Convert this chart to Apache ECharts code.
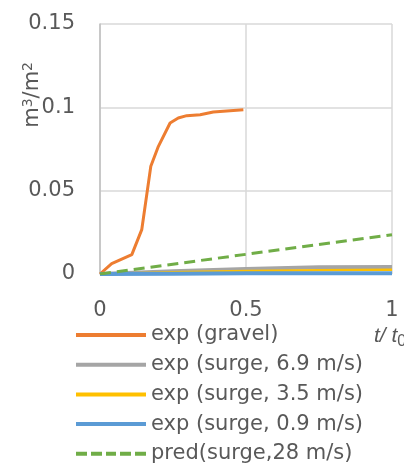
<!DOCTYPE html>
<html>
<head>
<meta charset="utf-8">
<script src="https://cdn.jsdelivr.net/npm/echarts@6/dist/echarts.min.js"></script>
<style>
  html, body { margin: 0; padding: 0; background: #fff; }
  #chart { width: 404px; height: 466px; }
</style>
</head>
<body>
<div id="chart"></div>
<script>
// t / t0 against m3/m2
const gravel = [
    [0, 0], [0.04, 0.0062], [0.109, 0.0116], [0.143, 0.0266], [0.174, 0.0646],
    [0.2, 0.0766], [0.24, 0.0906], [0.268, 0.0936], [0.297, 0.095], [0.343, 0.0956],
    [0.388, 0.0972], [0.491, 0.0985],
]
const surge69 = [[0, 0], [0.25, 0.0016], [0.5, 0.003], [0.75, 0.004], [1, 0.0042]]
const surge35 = [[0, 0], [0.25, 0.0011], [0.5, 0.0018], [0.75, 0.0022], [1, 0.0025]]
const surge09 = [[0, 0], [0.25, 0.0002], [0.5, 0.0004], [0.75, 0.0005], [1, 0.0005]]
const pred28 = [[0, 0], [0.5, 0.0118], [1, 0.0236]]

const names = [
    'exp (gravel)',
    'exp (surge, 6.9 m/s)',
    'exp (surge, 3.5 m/s)',
    'exp (surge, 0.9 m/s)',
    'pred(surge,28 m/s)',
]
const colors = ['#ED7D31', '#A5A5A5', '#FFC000', '#5B9BD5', '#70AD47']
const widths = [3, 4, 2.5, 4, 3]
const xTicks = [0, 0.5, 1]
const yTicks = [0, 0.05, 0.1, 0.15]

const font = 'DejaVu Sans, sans-serif'
const narrowFont = 'Liberation Sans, Arial, sans-serif'
const textColor = '#595959'

// legend swatches: a bar, or five dashes for the prediction
const solidIcon = 'path://M0,0h70v4h-70z'
const dashIcon = 'path://M0,0h11v4h-11z M15,0h11v4h-11z M30,0h10v4h-10z M44,0h11v4h-11z M59,0h11v4h-11z'

function line(name, data, color, width, dashed) {
    return {
        name,
        type: 'line',
        data,
        symbol: 'none',
        lineStyle: { color, width, type: dashed ? [11, 6] : 'solid' },
        itemStyle: { color },
        emphasis: { disabled: true },
    }
}

const chart = echarts.init(document.getElementById('chart'))
chart.setOption({
    animation: false,
    grid: { left: 100, top: 24, right: 12, bottom: 192, containLabel: false },
    xAxis: {
        type: 'value',
        min: xTicks[0],
        max: xTicks[xTicks.length - 1],
        interval: 0.5,
        axisLine: { show: false },
        axisTick: { show: false },
        axisLabel: { color: textColor, fontSize: 21, fontFamily: font, margin: 26 },
        splitLine: { show: true, lineStyle: { color: '#d9d9d9', width: 1.5 } },
    },
    yAxis: {
        type: 'value',
        min: yTicks[0],
        max: yTicks[yTicks.length - 1],
        interval: 0.05,
        axisLine: { show: true, lineStyle: { color: '#bfbfbf', width: 1.5 } },
        axisTick: { show: false },
        axisLabel: { color: textColor, fontSize: 21, fontFamily: font, margin: 25 },
        splitLine: { show: true, lineStyle: { color: '#d9d9d9', width: 1.5 } },
    },
    legend: {
        orient: 'vertical',
        left: 76,
        top: 324.5,
        padding: 0,
        itemWidth: 70,
        itemHeight: 4,
        itemGap: 8.7,
        textStyle: { color: textColor, fontSize: 21, fontFamily: font, lineHeight: 21 },
        data: names.map((name, i) => ({
            name,
            icon: i === 4 ? dashIcon : solidIcon,
            itemStyle: { color: colors[i] },
        })),
    },
    graphic: [
        {
            type: 'text',
            left: 21,
            top: 62,
            rotation: Math.PI / 2,
            style: {
                text: '{a|m}{s|3}{a|/m}{s|2}',
                rich: {
                    a: { fontSize: 21, fontFamily: font, fill: textColor },
                    s: { fontSize: 14, fontFamily: font, fill: textColor, verticalAlign: 'top', padding: [0, 0, 10, 0] },
                },
            },
        },
        {
            type: 'text',
            x: 374,
            y: 322,
            style: {
                text: '{a|t/ t}{s|0}',
                rich: {
                    a: { fontSize: 21, fontFamily: narrowFont, fontStyle: 'italic', fill: textColor },
                    s: { fontSize: 16, fontFamily: narrowFont, fill: textColor, padding: [12, 0, 0, 0] },
                },
            },
        },
    ],
    series: names.map((name, i) =>
        line(name, [gravel, surge69, surge35, surge09, pred28][i], colors[i], widths[i], i === 4)),
})
</script>
</body>
</html>
